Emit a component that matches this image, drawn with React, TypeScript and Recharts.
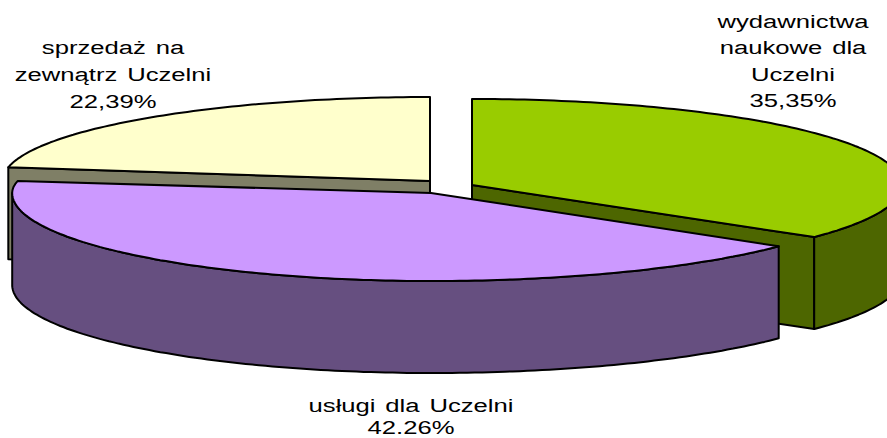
import { Pie, PieChart } from "recharts";

const names = ["sprzedaż na zewnątrz Uczelni", "wydawnictwa naukowe dla Uczelni", "usługi dla Uczelni"];
const values = [22.39, 35.35, 42.26];
const labelLines = [
  ["sprzedaż na", "zewnątrz Uczelni", "22,39%"],
  ["wydawnictwa", "naukowe dla", "Uczelni", "35,35%"],
  ["usługi dla Uczelni", "42.26%"],
];
const topColors = ["#ffffcc", "#99cc00", "#cc99ff"];
const wallColors = ["#7f7f66", "#4d6600", "#664f80"];

// exploded offsets and perspective fudge per slice, relative to the pie centre
const shiftX = [-1, 41, 0];
const shiftY = [-4, 0, 8];
const radiusLeft = [0.994, 1, 0.974];
const radiusRight = [1, 1, 1.016];
const heightBack = [84, 86, 74];
const heightFront = [84, 86, 88];
const labelX = [113, 793, 411];
const labelY = [54, 28, 412];
const labelStep = [27, 26.5, 22];

const DEPTH = 92;
const startAngle = 90 + values[0] * 3.6;
const data = names.map((name, i) => ({ name, value: values[i] }));

const sliceIndex = (name: string) => names.indexOf(name);

function SliceShape(props: any) {
  const i = sliceIndex(props.name);
  const cx = props.cx + shiftX[i];
  const cy = props.cy + shiftY[i];
  const at = (deg: number, drop = 0) => {
    const c = Math.cos((deg * Math.PI) / 180);
    const s = Math.sin((deg * Math.PI) / 180);
    const a = props.outerRadius * (c < 0 ? radiusLeft[i] : radiusRight[i]);
    const b = s > 0 ? heightBack[i] : heightFront[i];
    return `${(cx + a * c).toFixed(1)},${(cy - b * s + drop).toFixed(1)}`;
  };
  const from = props.startAngle;
  const to = props.endAngle;

  const arc: string[] = [];
  for (let d = from; d > to; d -= 1) arc.push(at(d));
  arc.push(at(to));

  // outer wall only on the front half of the ellipse (0 to -180)
  const front: number[] = [];
  const wallFrom = Math.min(from, 0);
  const wallTo = Math.max(to, -180);
  if (wallFrom > wallTo) {
    for (let d = wallFrom; d > wallTo; d -= 1) front.push(d);
    front.push(wallTo);
  }
  const wall = [...front.map((d) => at(d)), ...[...front].reverse().map((d) => at(d, DEPTH))];

  // cut face that looks at the viewer: yellow's start edge, green's end edge
  const faceAngle = i === 0 ? from : to;

  const common = { stroke: "#000", strokeWidth: 2, strokeLinejoin: "round" as const };
  return (
    <g>
      {i < 2 && (
        <polygon
          points={`${cx},${cy} ${at(faceAngle)} ${at(faceAngle, DEPTH)} ${cx},${cy + DEPTH}`}
          fill={wallColors[i]}
          {...common}
        />
      )}
      {wall.length > 0 && <polygon points={wall.join(" ")} fill={wallColors[i]} {...common} />}
      <polygon points={`${cx},${cy} ${arc.join(" ")}`} fill={topColors[i]} {...common} />
    </g>
  );
}

function SliceLabel(props: any) {
  const i = sliceIndex(props.name);
  // reference text is stretched sideways
  return (
    <text
      transform={`translate(${labelX[i]} 0) scale(1.35 1)`}
      textAnchor="middle"
      fontFamily="Liberation Sans"
      fontSize={19}
      wordSpacing={2}
      fill="#000"
    >
      {labelLines[i].map((line, n) => (
        <tspan key={line} x={0} y={labelY[i] + n * labelStep[i]}>
          {line}
        </tspan>
      ))}
    </text>
  );
}

export default function App() {
  return (
    <div style={{ position: "absolute", left: 0, top: 0, width: 887, height: 438, background: "#fff" }}>
      <PieChart width={887} height={438} margin={{ top: 0, right: 0, bottom: 0, left: 0 }}>
        <Pie
          data={data}
          dataKey="value"
          nameKey="name"
          cx={431}
          cy={185}
          innerRadius={0}
          outerRadius={430}
          startAngle={startAngle}
          endAngle={startAngle - 360}
          stroke="none"
          isAnimationActive={false}
          shape={SliceShape}
          activeShape={SliceShape}
          inactiveShape={SliceShape}
          label={SliceLabel}
          labelLine={false}
        />
      </PieChart>
    </div>
  );
}
